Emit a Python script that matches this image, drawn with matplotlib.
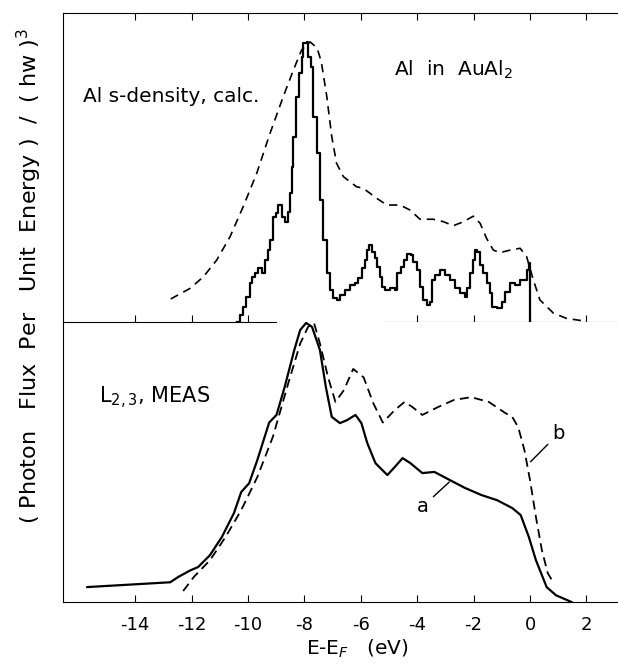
import matplotlib
matplotlib.use('Agg')
import matplotlib.pyplot as plt

plt.rcParams['axes.unicode_minus'] = False
plt.rcParams['font.family'] = 'DejaVu Sans'

# upper panel: calculated Al s-density (histogram) and broadened curve
calc_e = [-10.40, -10.28, -10.17, -10.07, -9.93, -9.87, -9.75, -9.63, -9.51, -9.40,
          -9.28, -9.22, -9.12, -9.00, -8.92, -8.80, -8.69, -8.59, -8.51, -8.45,
          -8.39, -8.30, -8.21, -8.10, -8.04, -7.92, -7.86, -7.78, -7.68, -7.56,
          -7.45, -7.33, -7.21, -7.09, -6.97, -6.86, -6.74, -6.56, -6.38, -6.21,
          -6.09, -5.97, -5.85, -5.77, -5.70, -5.61, -5.50, -5.41, -5.32, -5.26,
          -5.14, -4.96, -4.79, -4.70, -4.58, -4.47, -4.35, -4.23, -4.14, -4.02,
          -3.90, -3.78, -3.66, -3.55, -3.49, -3.37, -3.19, -3.01, -2.84, -2.66,
          -2.48, -2.30, -2.25, -2.13, -2.03, -1.95, -1.87, -1.77, -1.66, -1.54,
          -1.42, -1.36, -1.18, -1.00, -0.89, -0.71, -0.53, -0.35, -0.12, -0.05,
          0.00]
calc_v = [0.0, 2.0, 4.8, 8.0, 12.4, 14.5, 15.7, 17.3, 15.7, 19.9,
          23.1, 26.4, 33.9, 35.0, 37.7, 33.9, 32.3, 35.5, 41.6, 50.0,
          59.8, 72.8, 80.3, 85.7, 90.0, 90.5, 85.7, 82.5, 66.3, 54.4,
          39.3, 26.4, 15.6, 10.2, 7.5, 7.0, 8.6, 10.2, 11.8, 12.4,
          14.0, 17.2, 19.9, 23.1, 24.8, 22.6, 20.5, 17.7, 14.5, 11.3,
          10.2, 10.7, 10.2, 15.6, 17.7, 19.9, 21.8, 21.5, 19.4, 16.7,
          11.3, 7.0, 5.3, 6.4, 13.4, 15.0, 16.7, 15.0, 13.4, 10.7,
          9.1, 8.0, 10.7, 15.6, 19.9, 23.1, 22.6, 18.3, 15.6, 12.4,
          9.1, 4.8, 4.3, 6.4, 9.6, 12.4, 11.8, 13.5, 16.7, 18.9,
          0.0]

broad_e = [-12.74, -12.06, -11.58, -11.11, -10.64, -10.17, -9.69, -9.22, -8.75, -8.39,
           -8.10, -7.80, -7.55, -7.40, -7.21, -7.03, -6.86, -6.62, -6.38, -6.15,
           -5.91, -5.44, -5.08, -4.61, -4.26, -3.90, -3.43, -3.07, -2.72, -2.36,
           -2.01, -1.77, -1.54, -1.30, -1.06, -0.71, -0.35, -0.12, 0.12, 0.35,
           0.83, 1.30, 1.90]
broad_v = [7.3, 10.7, 14.5, 19.9, 27.4, 37.2, 48.0, 60.9, 72.8, 81.4,
           87.9, 90.5, 88.5, 84.0, 73.0, 59.8, 51.2, 46.9, 45.2, 43.6,
           43.1, 39.9, 37.7, 37.7, 36.1, 33.1, 33.1, 32.3, 31.0, 32.3,
           34.1, 31.8, 26.9, 23.1, 22.3, 23.1, 23.7, 21.0, 13.4, 7.0,
           2.7, 1.0, 0.2]

# lower panel: measured L2,3 spectra, curves a and b
meas_a_e = [-15.70, -12.76, -12.47, -12.05, -11.77, -11.35, -10.93, -10.50, -10.24, -9.96,
            -9.67, -9.25, -8.99, -8.70, -8.36, -8.15, -7.94, -7.73, -7.45, -7.24,
            -7.03, -6.74, -6.48, -6.19, -5.98, -5.77, -5.48, -5.06, -4.80, -4.52,
            -4.24, -3.82, -3.39, -2.84, -2.30, -1.72, -1.17, -0.63, -0.33, -0.04,
            0.21, 0.59, 0.92, 1.47]
meas_a_v = [5.7, 7.4, 9.3, 11.6, 12.8, 17.0, 23.4, 31.9, 39.4, 42.5,
            50.7, 64.0, 66.7, 76.6, 89.7, 96.8, 99.3, 97.9, 89.7, 76.6,
            66.0, 63.8, 64.9, 66.7, 63.8, 56.7, 49.6, 45.4, 48.2, 51.4,
            49.6, 46.1, 46.5, 43.6, 40.8, 38.3, 36.5, 33.7, 31.2, 23.4,
            15.2, 5.7, 2.8, 0.4]

meas_b_e = [-12.30, -11.92, -11.35, -10.80, -10.24, -9.67, -9.12, -8.57, -8.15, -7.87,
            -7.66, -7.45, -7.16, -6.90, -6.60, -6.27, -5.90, -5.56, -5.22, -4.80,
            -4.45, -4.17, -3.82, -3.26, -2.70, -2.09, -1.46, -0.88, -0.63, -0.42,
            -0.20, 0.00, 0.21, 0.42, 0.63, 0.84]
meas_b_v = [4.3, 9.3, 15.2, 23.4, 33.0, 44.7, 58.9, 78.0, 92.0, 97.9,
            99.3, 92.0, 80.0, 71.3, 75.5, 83.0, 80.0, 70.9, 64.0, 68.4,
            71.3, 69.5, 66.7, 69.5, 72.0, 73.0, 71.3, 67.4, 66.0, 62.4,
            54.3, 43.6, 30.5, 18.8, 10.6, 7.1]

ticks = [-14, -12, -10, -8, -6, -4, -2, 0, 2]
mid_ticks = [-14, -12, -10, -4, -2, 0, 2]
xmin, xmax = -16.56, 3.12

fig = plt.figure(figsize=(6.18, 6.65), dpi=100)
ax1 = fig.add_axes([0.102, 0.5165, 0.898, 0.4647])
ax2 = fig.add_axes([0.102, 0.0947, 0.898, 0.4218])

# top panel
ax1.plot(calc_e, calc_v, color='black', lw=1.6, drawstyle='steps-post')
ax1.plot(broad_e, broad_v, color='black', lw=1.2, ls=(0, (5, 3.5)))
ax1.set_xlim(xmin, xmax)
ax1.set_ylim(0, 100)
ax1.set_yticks([])
ax1.set_xticks(ticks)
ax1.tick_params(axis='x', top=True, bottom=False, direction='in', length=5,
                labeltop=False, labelbottom=False)
ax1.spines['right'].set_visible(False)
ax1.spines['bottom'].set_bounds(-5.16, xmax)
mid = ax1.secondary_xaxis('bottom')
mid.set_xticks(mid_ticks)
mid.tick_params(direction='in', length=5, labelbottom=False)
mid.spines['bottom'].set_visible(False)

ax1.text(-15.84, 72.8, 'Al s-density, calc.', fontsize=14.5, va='center')
ax1.text(-4.82, 81.4, 'Al  in  AuAl$_2$', fontsize=14.5, va='center')

# bottom panel
ax2.plot(meas_a_e, meas_a_v, color='black', lw=1.6)
ax2.plot(meas_b_e, meas_b_v, color='black', lw=1.3, ls=(0, (5, 3)))
ax2.set_xlim(xmin, xmax)
ax2.set_ylim(0.4, 99.8)
ax2.set_yticks([])
ax2.set_xticks(ticks)
ax2.set_xticklabels([str(t) for t in ticks])
ax2.tick_params(axis='x', direction='in', length=5, labelsize=13, pad=10)
ax2.spines['right'].set_visible(False)
ax2.spines['top'].set_bounds(xmin, -9.02)

ax2.text(-15.28, 72.7, 'L$_{2,3}$, MEAS', fontsize=15, va='center')
ax2.annotate('a', xy=(-2.79, 43.6), xytext=(-3.81, 34.2), fontsize=14,
             ha='center', va='center', arrowprops=dict(arrowstyle='-', lw=1))
ax2.annotate('b', xy=(-0.05, 49.4), xytext=(1.02, 60.2), fontsize=14,
             ha='center', va='center', arrowprops=dict(arrowstyle='-', lw=1))

ax2.set_xlabel('E-E$_F$   (eV)', fontsize=14.5)
ax2.xaxis.set_label_coords(0.53, -0.128)

fig.text(0.047, 0.585, '( Photon   Flux  Per   Unit  Energy )  /  ( hw )$^3$',
         rotation=90, fontsize=16, ha='center', va='center')

plt.savefig('out.png', dpi=100)
